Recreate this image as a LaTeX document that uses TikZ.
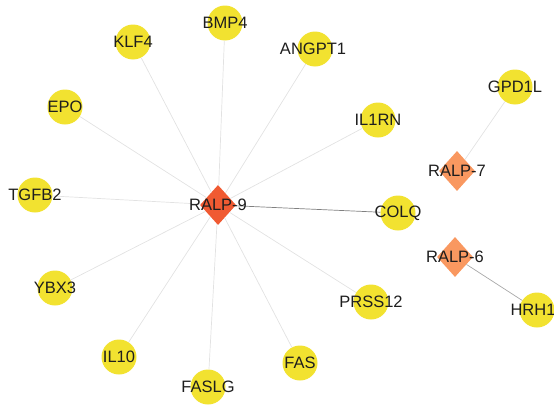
\documentclass[tikz,border=0pt]{standalone}
\usepackage{fontspec}
\setmainfont{Liberation Sans}
\usetikzlibrary{shapes.geometric}
\definecolor{geneyellow}{HTML}{F2E230}
\definecolor{hubred}{HTML}{F05A32}
\definecolor{peptorange}{HTML}{F99860}
\definecolor{edgefaint}{HTML}{E2E2E2}
\definecolor{edgemid}{HTML}{A8A8A8}
\definecolor{edgedark}{HTML}{808080}
\definecolor{labeltext}{HTML}{1E1E1E}
\tikzset{
  gene/.style={circle, fill=geneyellow, minimum size=35pt, inner sep=0pt},
  peptide/.style={diamond, fill=#1, minimum width=36pt, minimum height=40pt, inner sep=0pt},
  tag/.style={text=labeltext, font=\fontsize{16.5}{16.5}\selectfont, inner sep=0pt},
  link/.style={draw=edgefaint, line width=0.7pt},
}
\begin{document}
\begin{tikzpicture}[x=1pt,y=-1pt]
\useasboundingbox (0,0) rectangle (554,407);
% gene nodes
\node[gene] (klf4)   at (133,42)  {};
\node[gene] (bmp4)   at (225,23)  {};
\node[gene] (angpt1) at (315,49)  {};
\node[gene] (il1rn)  at (378,120) {};
\node[gene] (epo)    at (65,107)  {};
\node[gene] (tgfb2)  at (35,195)  {};
\node[gene] (colq)   at (398,213) {};
\node[gene] (ybx3)   at (55,288)  {};
\node[gene] (prss12) at (371,302) {};
\node[gene] (il10)   at (119,357) {};
\node[gene] (faslg)  at (208,387) {};
\node[gene] (fas)    at (300,363) {};
\node[gene] (gpd1l)  at (515,87)  {};
\node[gene] (hrh1)   at (537,310) {};
% peptide nodes
\node[peptide=hubred]     (r9) at (218,205) {};
\node[peptide=peptorange] (r7) at (457,171) {};
\node[peptide=peptorange] (r6) at (455,257) {};
% interactions
\foreach \g in {klf4,bmp4,angpt1,il1rn,epo,tgfb2,ybx3,prss12,il10,faslg,fas}
  \draw[link] (r9) -- (\g);
\draw[link, draw=edgedark] (r9) -- (colq);
\draw[link] (r7) -- (gpd1l);
\draw[link, draw=edgemid] (r6) -- (hrh1);
% labels
\node[tag] (tklf4)   at (klf4)   {KLF4};
\node[tag] (tbmp4)   at (bmp4)   {BMP4};
\node[tag] (tangpt1) at (313,49) {ANGPT1};
\node[tag] (til1rn)  at (il1rn)  {IL1RN};
\node[tag] (tepo)    at (epo)    {EPO};
\node[tag] (ttgfb2)  at (tgfb2)  {TGFB2};
\node[tag] (tcolq)   at (colq)   {COLQ};
\node[tag] (tybx3)   at (ybx3)   {YBX3};
\node[tag] (tprss12) at (prss12) {PRSS12};
\node[tag] (til10)   at (il10)   {IL10};
\node[tag] (tfaslg)  at (faslg)  {FASLG};
\node[tag] (tfas)    at (fas)    {FAS};
\node[tag] (tgpd1l)  at (gpd1l)  {GPD1L};
\node[tag] (thrh1)   at (533,310) {HRH1};
\node[tag] (tr9)     at (r9)     {RALP-9};
\node[tag] (tr7)     at (r7)     {RALP-7};
\node[tag] (tr6)     at (r6)     {RALP-6};
\end{tikzpicture}
\end{document}
